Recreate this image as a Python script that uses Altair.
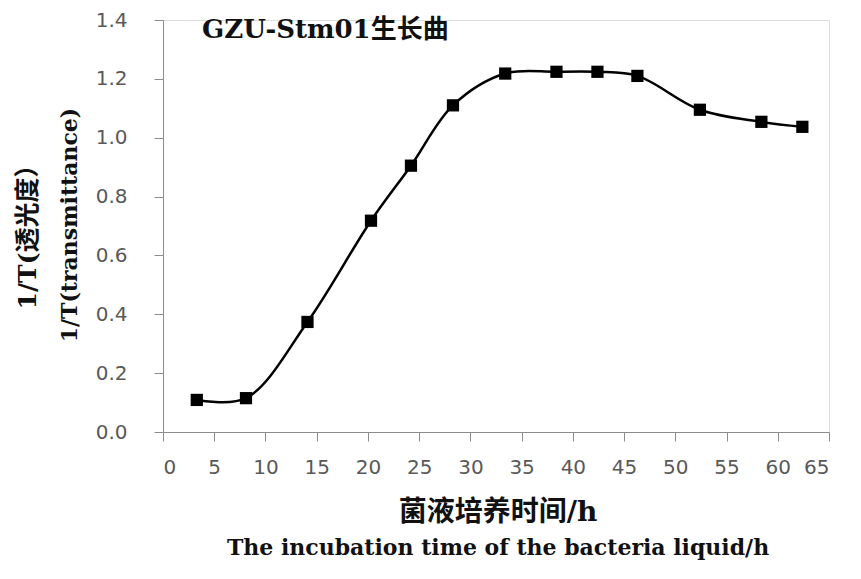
import altair as alt
import pandas as pd

hours = [3.3, 8.1, 14.1, 20.3, 24.2, 28.3, 33.4, 38.4, 42.4, 46.3, 52.4, 58.4, 62.4]
values = [0.109, 0.115, 0.374, 0.718, 0.905, 1.11, 1.218, 1.224, 1.224, 1.21, 1.095, 1.054, 1.037]
x_ticks = list(range(0, 70, 5))
y_ticks = [0.0, 0.2, 0.4, 0.6, 0.8, 1.0, 1.2, 1.4]

chart_title = "GZU-Stm01生长曲"
x_title_cn = "菌液培养时间/h"
x_title_en = "The incubation time of the bacteria liquid/h"
y_title_cn = "1/T(透光度）"
y_title_en = "1/T(transmittance)"

df = pd.DataFrame({"t": hours, "v": values})

serif = "DejaVu Serif, Noto Sans CJK SC"
lab_font = "DejaVu Sans"
axis_gray = "#8c8c8c"

x_enc = alt.X("t:Q", scale=alt.Scale(domain=[0, 65], nice=False, zero=False),
              axis=alt.Axis(values=x_ticks, format="d", grid=False, title=None,
                            labelFont=lab_font, labelFontSize=20, labelColor="#595959",
                            labelPadding=16, domainColor=axis_gray, tickColor=axis_gray,
                            tickSize=9))
y_enc = alt.Y("v:Q", scale=alt.Scale(domain=[0, 1.4], nice=False),
              axis=alt.Axis(values=y_ticks, format=".1f", grid=False, title=None,
                            labelFont=lab_font, labelFontSize=20, labelColor="#595959",
                            labelPadding=27, domainColor=axis_gray, tickColor=axis_gray,
                            tickSize=9))

line = alt.Chart(df).mark_line(interpolate="catmull-rom", color="black", strokeWidth=2.5).encode(x=x_enc, y=y_enc)
pts = alt.Chart(df).mark_point(shape="square", filled=True, color="black", size=150, opacity=1).encode(x="t:Q", y="v:Q")


def label(text, size, x, y, angle=0, align="center"):
    return alt.Chart(pd.DataFrame({"s": [text]})).mark_text(
        font=serif, fontSize=size, fontWeight="bold", align=align, baseline="middle",
        color="#111111", angle=angle
    ).encode(text="s:N", x=alt.value(x), y=alt.value(y))


title = label(chart_title, 26, 39, 10, align="left")
xt1 = label(x_title_cn, 28, 335, 493)
xt2 = label(x_title_en, 22, 335, 528)
yt1 = label(y_title_cn, 25, -135, 211, angle=270)
yt2 = label(y_title_en, 22, -93, 205, angle=270)

chart = alt.layer(line, pts, title, xt1, xt2, yt1, yt2).properties(
    width=666, height=412,
    autosize=alt.AutoSizeParams(type="none"),
    padding={"left": 155, "top": 12, "right": 20, "bottom": 140},
).configure_view(stroke=None).configure(background="white")

chart.save("out.html", embed_options={"renderer": "svg", "actions": False})
